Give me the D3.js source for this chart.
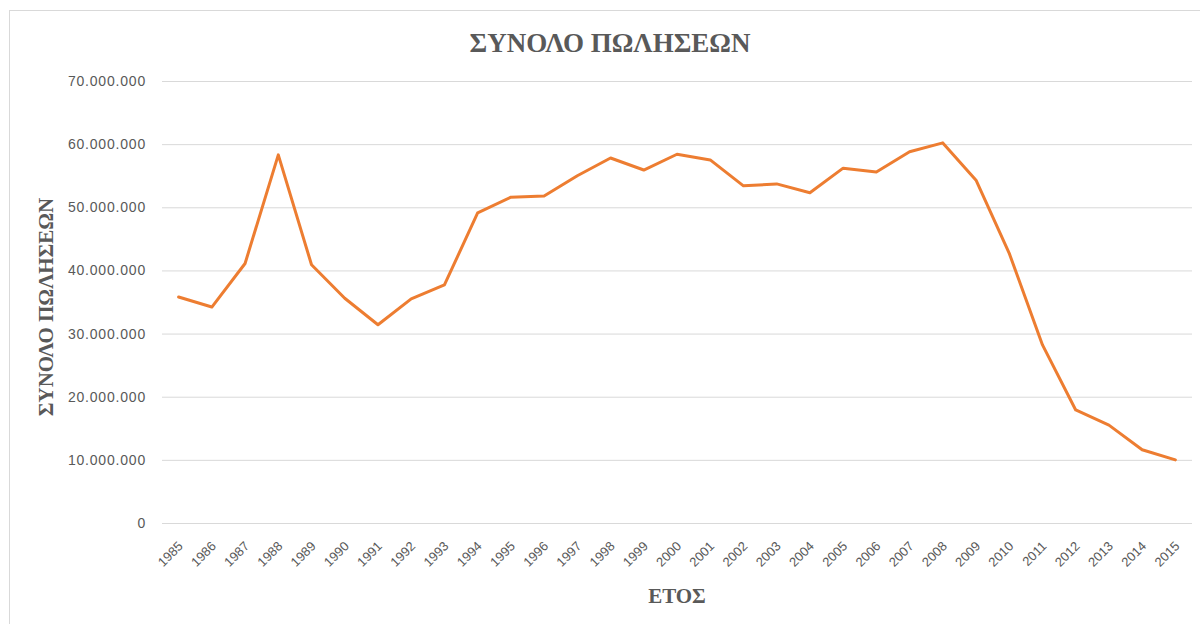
<!DOCTYPE html>
<html>
<head>
<meta charset="utf-8">
<script src="https://cdn.jsdelivr.net/npm/d3@7"></script>
<style>
  body { margin: 0; background: #fff; }
</style>
</head>
<body>
<div id="chart"></div>
<script>
var years = ["1985","1986","1987","1988","1989","1990","1991","1992","1993","1994",
  "1995","1996","1997","1998","1999","2000","2001","2002","2003","2004",
  "2005","2006","2007","2008","2009","2010","2011","2012","2013","2014","2015"];

var sales = [35800000, 34200000, 41100000, 58300000, 40900000, 35600000, 31400000,
  35500000, 37700000, 49100000, 51600000, 51800000, 55000000, 57800000, 55900000,
  58400000, 57500000, 53400000, 53700000, 52300000, 56200000, 55600000, 58800000,
  60200000, 54300000, 42700000, 28200000, 17900000, 15500000, 11600000, 10000000];

var yTicks = [0, 10000000, 20000000, 30000000, 40000000, 50000000, 60000000, 70000000];

var W = 1200, H = 624;
var pLeft = 162, pRight = 1192, pTop = 81, pBottom = 523;

var svg = d3.select("#chart").append("svg")
  .attr("width", W).attr("height", H)
  .style("display", "block");

// chart frame
svg.append("rect")
  .attr("x", 9.5).attr("y", 10.5)
  .attr("width", W).attr("height", H)
  .attr("fill", "#fff")
  .attr("stroke", "#d9d9d9");

var x = d3.scaleBand().domain(years).range([pLeft, pRight]);
var y = d3.scaleLinear().domain([0, 70000000]).range([pBottom, pTop]);

var fmt = function(v) { return d3.format(",")(v).replace(/,/g, "."); };

// grid + y labels
var yAxis = svg.append("g")
  .attr("transform", "translate(" + pLeft + ",0)")
  .call(d3.axisLeft(y).tickValues(yTicks).tickSize(-(pRight - pLeft)).tickPadding(16).tickFormat(fmt));
yAxis.select(".domain").remove();
yAxis.selectAll("line").attr("stroke", "#d9d9d9").attr("stroke-width", 1);
yAxis.selectAll("text")
  .attr("fill", "#595959")
  .style("font-family", "Liberation Sans, Arial, sans-serif")
  .style("font-size", "14px")
  .style("letter-spacing", "0.8px");

// x labels
var xAxis = svg.append("g")
  .attr("transform", "translate(0," + pBottom + ")")
  .call(d3.axisBottom(x).tickSize(0).tickPadding(0));
xAxis.select(".domain").remove();
xAxis.selectAll("text")
  .attr("fill", "#595959")
  .style("font-family", "Liberation Sans, Arial, sans-serif")
  .style("font-size", "13px")
  .attr("text-anchor", "end")
  .attr("dy", null)
  .attr("y", 0)
  .attr("transform", "translate(5,24) rotate(-45)");

// line
var line = d3.line()
  .x(function(d, i) { return x(years[i]) + x.bandwidth() / 2; })
  .y(function(d) { return y(d); });

svg.append("path")
  .datum(sales)
  .attr("d", line)
  .attr("fill", "none")
  .attr("stroke", "#ED7D31")
  .attr("stroke-width", 3)
  .attr("stroke-linejoin", "round")
  .attr("stroke-linecap", "round");

// titles
svg.append("text")
  .attr("x", 610).attr("y", 52)
  .attr("text-anchor", "middle")
  .attr("fill", "#595959")
  .style("font-family", "Liberation Serif, Times New Roman, serif")
  .style("font-weight", "bold")
  .style("font-size", "27px")
  .text("ΣΥΝΟΛΟ ΠΩΛΗΣΕΩΝ");

svg.append("text")
  .attr("transform", "translate(53,307) rotate(-90)")
  .attr("text-anchor", "middle")
  .attr("fill", "#595959")
  .style("font-family", "Liberation Serif, Times New Roman, serif")
  .style("font-weight", "bold")
  .style("font-size", "21px")
  .text("ΣΥΝΟΛΟ ΠΩΛΗΣΕΩΝ");

svg.append("text")
  .attr("x", (pLeft + pRight) / 2).attr("y", 603)
  .attr("text-anchor", "middle")
  .attr("fill", "#595959")
  .style("font-family", "Liberation Serif, Times New Roman, serif")
  .style("font-weight", "bold")
  .style("font-size", "21px")
  .text("ΕΤΟΣ");
</script>
</body>
</html>
